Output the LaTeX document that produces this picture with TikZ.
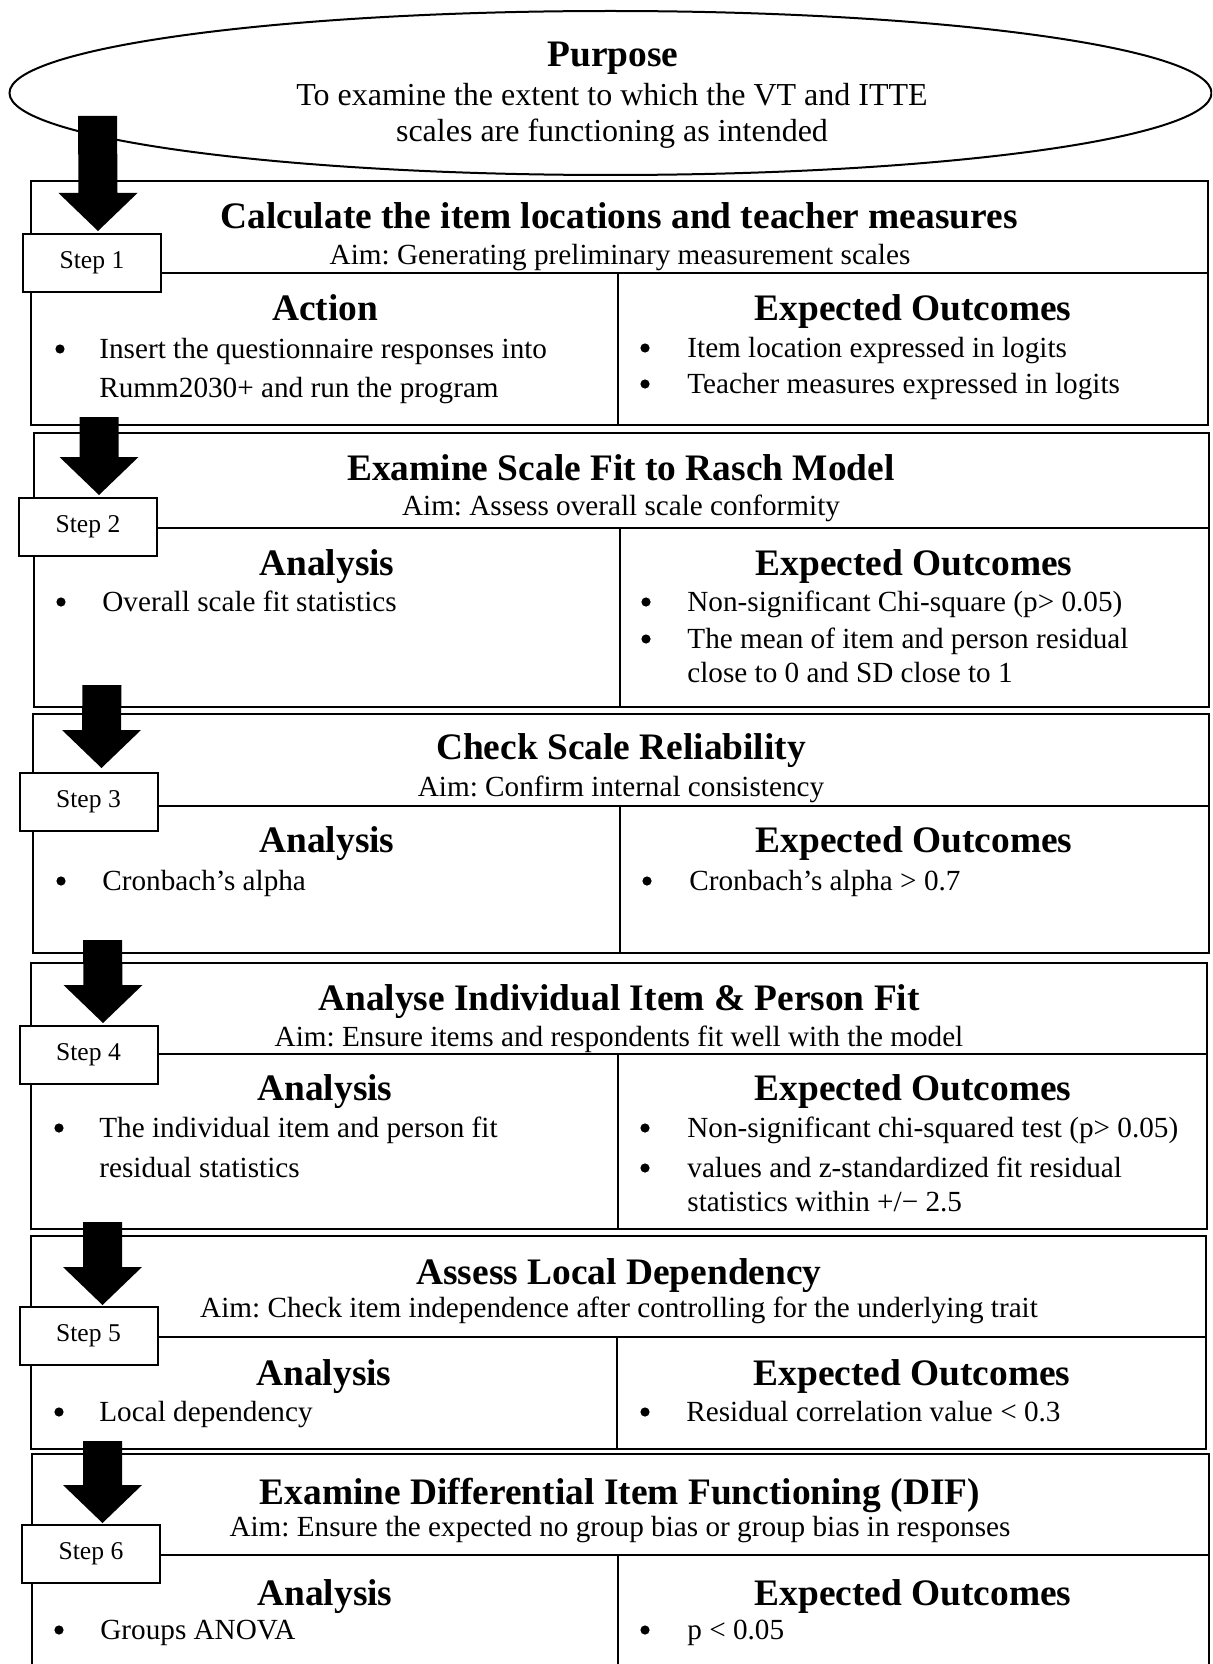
\documentclass[tikz,border=0pt]{standalone}
\usepackage{fontspec}
\setmainfont{Liberation Serif}
\usetikzlibrary{calc,shapes.geometric}
\frenchspacing

\tikzset{
  boxline/.style={line width=0.75pt},
  ovalstyle/.style={draw, ellipse, line width=1pt, inner sep=0pt},
  stepbox/.style={draw, line width=1pt, fill=white, minimum width=69pt,
    minimum height=29pt, inner sep=0pt, font=\fontsize{12.8}{14}\selectfont},
  ttl/.style={anchor=base, inner sep=0pt, font=\fontsize{18.7}{22}\selectfont\bfseries},
  hd/.style={anchor=base, inner sep=0pt, font=\fontsize{18.7}{22}\selectfont\bfseries},
  aim/.style={anchor=base, inner sep=0pt, font=\fontsize{14.6}{17}\selectfont},
  otxt/.style={anchor=base, inner sep=0pt, font=\fontsize{16}{19}\selectfont},
  txt/.style={anchor=base west, inner sep=0pt, font=\fontsize{14.6}{17}\selectfont},
  bulletdot/.style={circle, fill=black, inner sep=0pt, minimum size=4.6pt},
  blockarrow/.style={fill=black},
}

\begin{document}
\begin{tikzpicture}[x=0.5pt,y=-0.5pt]
\useasboundingbox (0,0) rectangle (1212,1664);
\clip (0,0) rectangle (1212,1664);

% purpose oval
\node[ovalstyle, minimum width=601pt, minimum height=82pt] (purpose) at (610.5,93) {};
\node[hd] (ptitle) at (613,67) {Purpose};
\node[otxt] (pline1) at (612,106) {To examine the extent to which the VT and ITTE};
\node[otxt] (pline2) at (612,142) {scales are functioning as intended};

% step frames: outline, header rule, column rule
\draw[boxline] (31,181) rectangle (1208,425);
\draw[boxline] (31,273) -- (1208,273);
\draw[boxline] (618,273) -- (618,425);

\draw[boxline] (34,433) rectangle (1209,707);
\draw[boxline] (34,528) -- (1209,528);
\draw[boxline] (620,528) -- (620,707);

\draw[boxline] (33,714) rectangle (1209,953);
\draw[boxline] (33,806) -- (1209,806);
\draw[boxline] (620,806) -- (620,953);

\draw[boxline] (31,963) rectangle (1207,1229);
\draw[boxline] (31,1054) -- (1207,1054);
\draw[boxline] (618,1054) -- (618,1229);

\draw[boxline] (31,1236) rectangle (1206,1449);
\draw[boxline] (31,1337) -- (1206,1337);
\draw[boxline] (617,1337) -- (617,1449);

\draw[boxline] (32,1454) rectangle (1209,1700);
\draw[boxline] (32,1555) -- (1209,1555);
\draw[boxline] (618,1555) -- (618,1700);

% step labels
\node[stepbox] (s1) at (92,263) {Step 1};
\node[stepbox] (s2) at (88,527) {Step 2};
\node[stepbox] (s3) at (88.5,801.5) {Step 3};
\node[stepbox] (s4) at (88.5,1054.5) {Step 4};
\node[stepbox] (s5) at (88.5,1336) {Step 5};
\node[stepbox] (s6) at (91,1554) {Step 6};

% block arrows: shaft top and tip
\coordinate (a1) at (97.5,116);  \coordinate (t1) at (98,231);
\coordinate (a2) at (99,417);    \coordinate (t2) at (99,495);
\coordinate (a3) at (102,685);   \coordinate (t3) at (101.5,768);
\coordinate (a4) at (102.5,940); \coordinate (t4) at (103,1023);
\coordinate (a5) at (102.5,1222);\coordinate (t5) at (102.5,1305);
\coordinate (a6) at (102.5,1441);\coordinate (t6) at (102.5,1523);
\foreach \i in {1,...,6}{
  \fill[blockarrow] (t\i) -- ($(t\i)+(-39.5,-38)$) -- ($(t\i)+(-19.5,-38)$)
    -- ($(a\i)+(-19.5,0)$) -- ($(a\i)+(19.5,0)$) -- ($(t\i)+(19.5,-38)$)
    -- ($(t\i)+(39.5,-38)$) -- cycle;
}

% step 1
\node[ttl] (ti1) at (619,229) {Calculate the item locations and teacher measures};
\node[aim] (am1) at (620,264) {Aim: Generating preliminary measurement scales};
\node[hd] (hl1) at (325,320) {Action};
\node[hd] (hr1) at (913,320) {Expected Outcomes};
\node[bulletdot] (bl1) at (60,349) {};
\node[txt] (l1a) at (99,358) {Insert the questionnaire responses into};
\node[txt] (l1b) at (99,397) {Rumm2030+ and run the program};
\node[bulletdot] (br1a) at (645,348) {};
\node[txt] (r1a) at (687,357) {Item location expressed in logits};
\node[bulletdot] (br1b) at (645,384) {};
\node[txt] (r1b) at (687,393) {Teacher measures expressed in logits};

% step 2
\node[ttl] (ti2) at (621,480) {Examine Scale Fit to Rasch Model};
\node[aim] (am2) at (621,515) {Aim: Assess overall scale conformity};
\node[hd] (hl2) at (327,575) {Analysis};
\node[hd] (hr2) at (914,575) {Expected Outcomes};
\node[bulletdot] (bl2) at (61,602) {};
\node[txt] (l2a) at (102,611) {Overall scale fit statistics};
\node[bulletdot] (br2a) at (646,602) {};
\node[txt] (r2a) at (687,611) {Non-significant Chi-square (p> 0.05)};
\node[bulletdot] (br2b) at (646,639) {};
\node[txt] (r2b) at (687,648) {The mean of item and person residual};
\node[txt] (r2c) at (687,682) {close to 0 and SD close to 1};

% step 3
\node[ttl] (ti3) at (621,759) {Check Scale Reliability};
\node[aim] (am3) at (621,796) {Aim: Confirm internal consistency};
\node[hd] (hl3) at (327,852) {Analysis};
\node[hd] (hr3) at (914,852) {Expected Outcomes};
\node[bulletdot] (bl3) at (61,881) {};
\node[txt] (l3a) at (102,890) {Cronbach’s alpha};
\node[bulletdot] (br3) at (647,881) {};
\node[txt] (r3a) at (689,890) {Cronbach’s alpha > 0.7};

% step 4
\node[ttl] (ti4) at (619,1010) {Analyse Individual Item \& Person Fit};
\node[aim] (am4) at (619,1046) {Aim: Ensure items and respondents fit well with the model};
\node[hd] (hl4) at (325,1100) {Analysis};
\node[hd] (hr4) at (913,1100) {Expected Outcomes};
\node[bulletdot] (bl4) at (59,1128) {};
\node[txt] (l4a) at (99,1137) {The individual item and person fit};
\node[txt] (l4b) at (99,1177) {residual statistics};
\node[bulletdot] (br4a) at (645,1128) {};
\node[txt] (r4a) at (687,1137) {Non-significant chi-squared test (p> 0.05)};
\node[bulletdot] (br4b) at (645,1168) {};
\node[txt] (r4b) at (687,1177) {values and z-standardized fit residual};
\node[txt] (r4c) at (687,1211) {statistics within +/− 2.5};

% step 5
\node[ttl] (ti5) at (619,1284) {Assess Local Dependency};
\node[aim] (am5) at (619,1317) {Aim: Check item independence after controlling for the underlying trait};
\node[hd] (hl5) at (324,1385) {Analysis};
\node[hd] (hr5) at (912,1385) {Expected Outcomes};
\node[bulletdot] (bl5) at (59,1412) {};
\node[txt] (l5a) at (99,1421) {Local dependency};
\node[bulletdot] (br5) at (645,1412) {};
\node[txt] (r5a) at (686,1421) {Residual correlation value < 0.3};

% step 6
\node[ttl] (ti6) at (620,1504) {Examine Differential Item Functioning (DIF)};
\node[aim] (am6) at (620,1536) {Aim: Ensure the expected no group bias or group bias in responses};
\node[hd] (hl6) at (325,1605) {Analysis};
\node[hd] (hr6) at (913,1605) {Expected Outcomes};
\node[bulletdot] (bl6) at (59,1630) {};
\node[txt] (l6a) at (100,1639) {Groups ANOVA};
\node[bulletdot] (br6) at (645,1630) {};
\node[txt] (r6a) at (687,1639) {p < 0.05};
\end{tikzpicture}
\end{document}
